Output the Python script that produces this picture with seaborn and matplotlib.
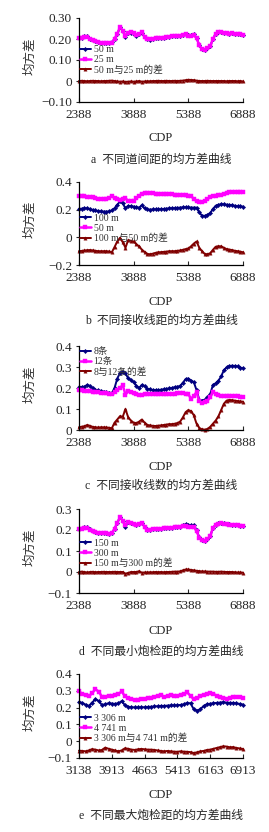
import seaborn as sns
import matplotlib.pyplot as plt
import numpy as np

# CDP positions (category axis, one sample every 75 CDP)
cdp_ad = np.arange(2388, 6889, 75)
cdp_e = np.linspace(3138, 6913, 51)

# panel a: trace spacing
a_50m = [0.203, 0.206, 0.212, 0.212, 0.201, 0.195, 0.19, 0.185, 0.182, 0.18, 0.18, 0.181, 0.185, 0.2, 0.223,
         0.255, 0.238, 0.211, 0.227, 0.23, 0.224, 0.216, 0.225, 0.229, 0.208, 0.199, 0.197, 0.2, 0.203, 0.205,
         0.206, 0.207, 0.21, 0.21, 0.212, 0.213, 0.214, 0.216, 0.22, 0.226, 0.221, 0.218, 0.222, 0.207, 0.17,
         0.152, 0.15, 0.155, 0.165, 0.2, 0.225, 0.232, 0.233, 0.23, 0.228, 0.226, 0.227, 0.226, 0.224, 0.222, 0.219]
a_25m = [0.203, 0.205, 0.21, 0.21, 0.2, 0.195, 0.19, 0.185, 0.182, 0.18, 0.18, 0.18, 0.183, 0.2, 0.225,
         0.258, 0.24, 0.215, 0.23, 0.232, 0.227, 0.218, 0.225, 0.232, 0.21, 0.2, 0.198, 0.2, 0.203, 0.205,
         0.206, 0.207, 0.21, 0.21, 0.212, 0.213, 0.214, 0.215, 0.218, 0.222, 0.215, 0.213, 0.218, 0.205, 0.17,
         0.152, 0.15, 0.155, 0.165, 0.2, 0.225, 0.232, 0.233, 0.23, 0.228, 0.226, 0.227, 0.226, 0.225, 0.222, 0.22]
a_diff = [0.0, 0.001, 0.0, -0.001, 0.0, 0.001, 0.0, 0.0, -0.001, 0.0, 0.0, 0.001, 0.002, 0.0, -0.002,
          -0.003, -0.002, -0.004, -0.003, -0.002, -0.003, -0.002, 0.0, -0.003, -0.002, -0.001, -0.001, 0.0, 0.0, 0.001,
          0.0, 0.0, 0.001, 0.0, 0.0, 0.001, 0.0, 0.001, 0.002, 0.004, 0.006, 0.005, 0.004, 0.002, 0.0,
          0.0, 0.0, 0.001, 0.0, 0.0, 0.0, 0.0, 0.0, 0.0, -0.001, 0.0, 0.0, 0.0, -0.001, 0.0, -0.002]

# panel b: receiver line spacing
b_100m = [0.205, 0.207, 0.21, 0.21, 0.205, 0.198, 0.194, 0.19, 0.187, 0.186, 0.186, 0.187, 0.195, 0.21, 0.235,
          0.26, 0.245, 0.21, 0.228, 0.225, 0.222, 0.218, 0.215, 0.232, 0.21, 0.202, 0.2, 0.202, 0.202, 0.203,
          0.203, 0.205, 0.207, 0.21, 0.21, 0.211, 0.213, 0.215, 0.217, 0.218, 0.217, 0.215, 0.215, 0.215, 0.18,
          0.157, 0.155, 0.162, 0.175, 0.205, 0.228, 0.235, 0.24, 0.238, 0.236, 0.234, 0.232, 0.228, 0.225, 0.223, 0.222]
b_50m = [0.3, 0.3, 0.298, 0.295, 0.293, 0.288, 0.283, 0.279, 0.277, 0.277, 0.278, 0.285, 0.298, 0.283, 0.275,
         0.27, 0.275, 0.285, 0.26, 0.262, 0.265, 0.283, 0.3, 0.316, 0.324, 0.322, 0.32, 0.318, 0.316, 0.315,
         0.313, 0.312, 0.311, 0.31, 0.31, 0.309, 0.308, 0.307, 0.306, 0.305, 0.302, 0.296, 0.28, 0.26, 0.252,
         0.253, 0.262, 0.275, 0.292, 0.297, 0.3, 0.303, 0.308, 0.314, 0.32, 0.325, 0.327, 0.328, 0.329, 0.33, 0.33]
b_diff = [-0.1, -0.098, -0.095, -0.093, -0.092, -0.094, -0.097, -0.1, -0.1, -0.1, -0.1, -0.102, -0.108, -0.07, -0.03,
          -0.003, -0.035, -0.075, -0.02, -0.025, -0.03, -0.05, -0.065, -0.09, -0.105, -0.12, -0.122, -0.118, -0.112, -0.108,
          -0.107, -0.105, -0.103, -0.1, -0.1, -0.1, -0.097, -0.095, -0.09, -0.085, -0.08, -0.065, -0.045, -0.03, -0.075,
          -0.1, -0.12, -0.122, -0.115, -0.09, -0.068, -0.064, -0.065, -0.075, -0.085, -0.088, -0.092, -0.097, -0.1, -0.103, -0.108]

# panel c: number of receiver lines
c_8 = [0.203, 0.205, 0.206, 0.215, 0.21, 0.198, 0.192, 0.189, 0.186, 0.183, 0.18, 0.177, 0.175, 0.2, 0.245,
       0.272, 0.278, 0.27, 0.246, 0.238, 0.228, 0.21, 0.2, 0.215, 0.21, 0.197, 0.194, 0.19, 0.19, 0.19,
       0.192, 0.194, 0.196, 0.198, 0.2, 0.204, 0.206, 0.21, 0.225, 0.242, 0.245, 0.235, 0.228, 0.19, 0.145,
       0.14, 0.145, 0.155, 0.17, 0.215, 0.222, 0.235, 0.255, 0.285, 0.298, 0.305, 0.306, 0.305, 0.303, 0.297, 0.294]
c_12 = [0.19, 0.189, 0.188, 0.187, 0.186, 0.183, 0.181, 0.179, 0.178, 0.176, 0.174, 0.172, 0.17, 0.18, 0.19,
        0.2, 0.214, 0.168, 0.185, 0.18, 0.177, 0.172, 0.167, 0.168, 0.17, 0.17, 0.171, 0.171, 0.171, 0.171,
        0.172, 0.172, 0.172, 0.173, 0.173, 0.173, 0.174, 0.175, 0.175, 0.173, 0.171, 0.148, 0.163, 0.18, 0.137,
        0.13, 0.132, 0.14, 0.155, 0.183, 0.17, 0.165, 0.16, 0.16, 0.16, 0.162, 0.163, 0.162, 0.16, 0.158, 0.156]
c_diff = [0.013, 0.016, 0.018, 0.024, 0.02, 0.015, 0.013, 0.012, 0.013, 0.013, 0.012, 0.011, 0.008, 0.035, 0.05,
          0.066, 0.063, 0.1, 0.06, 0.045, 0.035, 0.033, 0.04, 0.05, 0.035, 0.024, 0.022, 0.02, 0.019, 0.021,
          0.022, 0.024, 0.026, 0.028, 0.028, 0.03, 0.033, 0.04, 0.06, 0.085, 0.095, 0.09, 0.07, 0.03, 0.01,
          0.003, 0.002, 0.005, 0.015, 0.03, 0.045, 0.065, 0.095, 0.125, 0.14, 0.143, 0.142, 0.14, 0.138, 0.136, 0.135]

# panel d: minimum offset
d_150m = [0.206, 0.209, 0.213, 0.212, 0.203, 0.196, 0.19, 0.187, 0.186, 0.185, 0.184, 0.183, 0.186, 0.205, 0.235,
          0.26, 0.245, 0.215, 0.238, 0.235, 0.228, 0.222, 0.23, 0.233, 0.215, 0.202, 0.2, 0.203, 0.205, 0.206,
          0.207, 0.208, 0.21, 0.21, 0.211, 0.212, 0.213, 0.215, 0.222, 0.228, 0.225, 0.222, 0.225, 0.2, 0.165,
          0.152, 0.15, 0.156, 0.17, 0.21, 0.226, 0.232, 0.233, 0.231, 0.229, 0.227, 0.226, 0.224, 0.222, 0.22, 0.217]
d_300m = [0.205, 0.207, 0.21, 0.21, 0.202, 0.196, 0.19, 0.187, 0.186, 0.185, 0.184, 0.183, 0.186, 0.205, 0.235,
          0.26, 0.245, 0.222, 0.238, 0.235, 0.228, 0.222, 0.228, 0.235, 0.215, 0.202, 0.2, 0.203, 0.205, 0.206,
          0.207, 0.208, 0.21, 0.21, 0.211, 0.212, 0.213, 0.215, 0.217, 0.22, 0.215, 0.212, 0.214, 0.195, 0.163,
          0.152, 0.15, 0.156, 0.17, 0.21, 0.225, 0.23, 0.232, 0.23, 0.228, 0.226, 0.226, 0.224, 0.222, 0.22, 0.218]
d_diff = [0.0, 0.002, 0.0, -0.002, 0.0, 0.001, -0.001, 0.0, 0.0, 0.001, 0.0, 0.0, 0.0, 0.001, 0.0,
          0.0, 0.0, -0.008, -0.004, 0.0, 0.0, 0.0, 0.004, -0.003, -0.002, -0.002, -0.001, -0.001, 0.0, -0.001,
          0.0, -0.001, 0.0, 0.0, 0.001, 0.002, 0.002, 0.003, 0.008, 0.012, 0.012, 0.01, 0.008, 0.006, 0.004,
          0.003, 0.003, 0.002, 0.002, 0.002, 0.001, 0.001, 0.002, 0.001, 0.0, 0.0, 0.0, -0.001, -0.002, -0.002, -0.003]

# panel e: maximum offset
e_3306 = [0.233, 0.228, 0.218, 0.21, 0.23, 0.25, 0.24, 0.215, 0.22, 0.226, 0.224, 0.222, 0.226, 0.238, 0.215,
          0.205, 0.202, 0.201, 0.201, 0.202, 0.202, 0.204, 0.205, 0.207, 0.208, 0.21, 0.21, 0.212, 0.213, 0.213,
          0.214, 0.216, 0.22, 0.228, 0.225, 0.19, 0.182, 0.19, 0.21, 0.22, 0.223, 0.226, 0.228, 0.23, 0.232,
          0.23, 0.228, 0.228, 0.225, 0.222, 0.218]
e_4741 = [0.296, 0.282, 0.275, 0.268, 0.285, 0.31, 0.295, 0.265, 0.262, 0.267, 0.272, 0.277, 0.28, 0.296, 0.268,
          0.256, 0.25, 0.247, 0.248, 0.25, 0.253, 0.255, 0.258, 0.262, 0.27, 0.277, 0.262, 0.27, 0.277, 0.27,
          0.267, 0.275, 0.28, 0.29, 0.27, 0.25, 0.255, 0.267, 0.277, 0.282, 0.286, 0.28, 0.272, 0.265, 0.26,
          0.253, 0.258, 0.266, 0.263, 0.261, 0.26]
e_diff = [-0.056, -0.058, -0.06, -0.055, -0.047, -0.05, -0.055, -0.052, -0.038, -0.045, -0.05, -0.055, -0.06, -0.055, -0.042,
          -0.045, -0.05, -0.052, -0.048, -0.046, -0.048, -0.05, -0.05, -0.052, -0.055, -0.058, -0.06, -0.058, -0.06, -0.062,
          -0.063, -0.06, -0.062, -0.063, -0.065, -0.07, -0.066, -0.06, -0.058, -0.052, -0.05, -0.045, -0.04, -0.035, -0.03,
          -0.032, -0.036, -0.035, -0.04, -0.043, -0.046]

labels_a = ["50 m", "25 m", "50 m与25 m的差"]
labels_b = ["100 m", "50 m", "100 m与50 m的差"]
labels_c = ["8条", "12条", "8与12条的差"]
labels_d = ["150 m", "300 m", "150 m与300 m的差"]
labels_e = ["3 306 m", "4 741 m", "3 306 m与4 741 m的差"]

xt_ad = ["2388", "3888", "5388", "6888"]
xt_e = ["3138", "3913", "4663", "5413", "6163", "6913"]

captions = ["a  不同道间距的均方差曲线", "b  不同接收线距的均方差曲线", "c  不同接收线数的均方差曲线",
            "d  不同最小炮检距的均方差曲线", "e  不同最大炮检距的均方差曲线"]

sns.set_style("ticks")
fam = ['Liberation Serif', 'Noto Sans CJK SC']
plt.rcParams['font.family'] = fam
plt.rcParams['axes.unicode_minus'] = True

colors = ['#000080', '#ff00ff', '#800000']
mk = ['D', 's', '^']
ms = [2.2, 2.6, 2.4]
lws = [1.4, 1.8, 1.4]

H = 832.0
W = 269.0
fig = plt.figure(figsize=(2.69, 8.32), dpi=100)

# (top px, bottom px, ylim, yticks, ticklabels, x, xlim, xticklabels, series, labels, legend top)
panels = [
    (18, 102, (-0.1, 0.3), [-0.1, 0, 0.1, 0.2, 0.3], ["−0.10", "0", "0.10", "0.20", "0.30"],
     cdp_ad, (2388, 6888), xt_ad, [a_50m, a_25m, a_diff], labels_a, 0.69),
    (182, 265, (-0.2, 0.4), [-0.2, 0, 0.2, 0.4], ["−0.2", "0", "0.2", "0.4"],
     cdp_ad, (2388, 6888), xt_ad, [b_100m, b_50m, b_diff], labels_b, 0.63),
    (346, 430, (0, 0.4), [0, 0.1, 0.2, 0.3, 0.4], ["0", "0.1", "0.2", "0.3", "0.4"],
     cdp_ad, (2388, 6888), xt_ad, [c_8, c_12, c_diff], labels_c, 1.0),
    (509, 593, (-0.1, 0.3), [-0.1, 0, 0.1, 0.2, 0.3], ["−0.1", "0", "0.1", "0.2", "0.3"],
     cdp_ad, (2388, 6888), xt_ad, [d_150m, d_300m, d_diff], labels_d, 0.66),
    (674, 758, (-0.1, 0.4), [-0.1, 0, 0.1, 0.2, 0.3, 0.4], ["−0.1", "0", "0.1", "0.2", "0.3", "0.4"],
     cdp_e, (3138, 6913), xt_e, [e_3306, e_4741, e_diff], labels_e, 0.54),
]
cdp_y = [138, 302, 467, 631, 795]
cap_y = [160, 321, 486, 652, 816]

for i, (top, bot, ylim, yt, ytl, xs, xlim, xtl, series, labs, legtop) in enumerate(panels):
    ax = fig.add_axes([79 / W, 1 - bot / H, 164 / W, (bot - top) / H])
    for s, lab, c, m, size, lw in zip(series, labs, colors, mk, ms, lws):
        sns.lineplot(x=xs, y=s, ax=ax, color=c, marker=m, markersize=size, markeredgecolor=c,
                     markeredgewidth=0.3, lw=lw, label=lab, clip_on=False)
    ax.set_xlim(*xlim)
    ax.set_ylim(*ylim)
    ax.set_xticks(np.linspace(xlim[0], xlim[1], len(xtl)))
    ax.set_xticklabels(xtl)
    ax.set_yticks(yt)
    ax.set_yticklabels(ytl)
    ax.tick_params(axis='x', direction='in', length=3, width=0.8, pad=5, labelsize=9.5)
    ax.tick_params(axis='y', direction='out', length=2, width=0.8, pad=3, labelsize=9.5)
    sns.despine(ax=ax)
    for sp in ['left', 'bottom']:
        ax.spines[sp].set_linewidth(0.9)
        ax.spines[sp].set_color('black')
    ax.set_ylabel("均方差", fontsize=9, color='#333333')
    ax.yaxis.set_label_coords(-0.26, 0.55)
    ax.set_xlabel("")
    leg = ax.legend(loc='upper left', bbox_to_anchor=(0.0, legtop), frameon=False, fontsize=7,
                    handlelength=1.1, handletextpad=0.3, labelspacing=0.1, borderpad=0.1,
                    borderaxespad=0, numpoints=1, markerscale=1.0)
    for t in leg.get_texts():
        t.set_color('#333333')
    fig.text(161 / W, 1 - cdp_y[i] / H, "CDP", ha='center', va='center', fontsize=9)
    fig.text(161 / W, 1 - cap_y[i] / H, captions[i], ha='center', va='center', fontsize=8.5)

fig.savefig('out.png', dpi=100)
